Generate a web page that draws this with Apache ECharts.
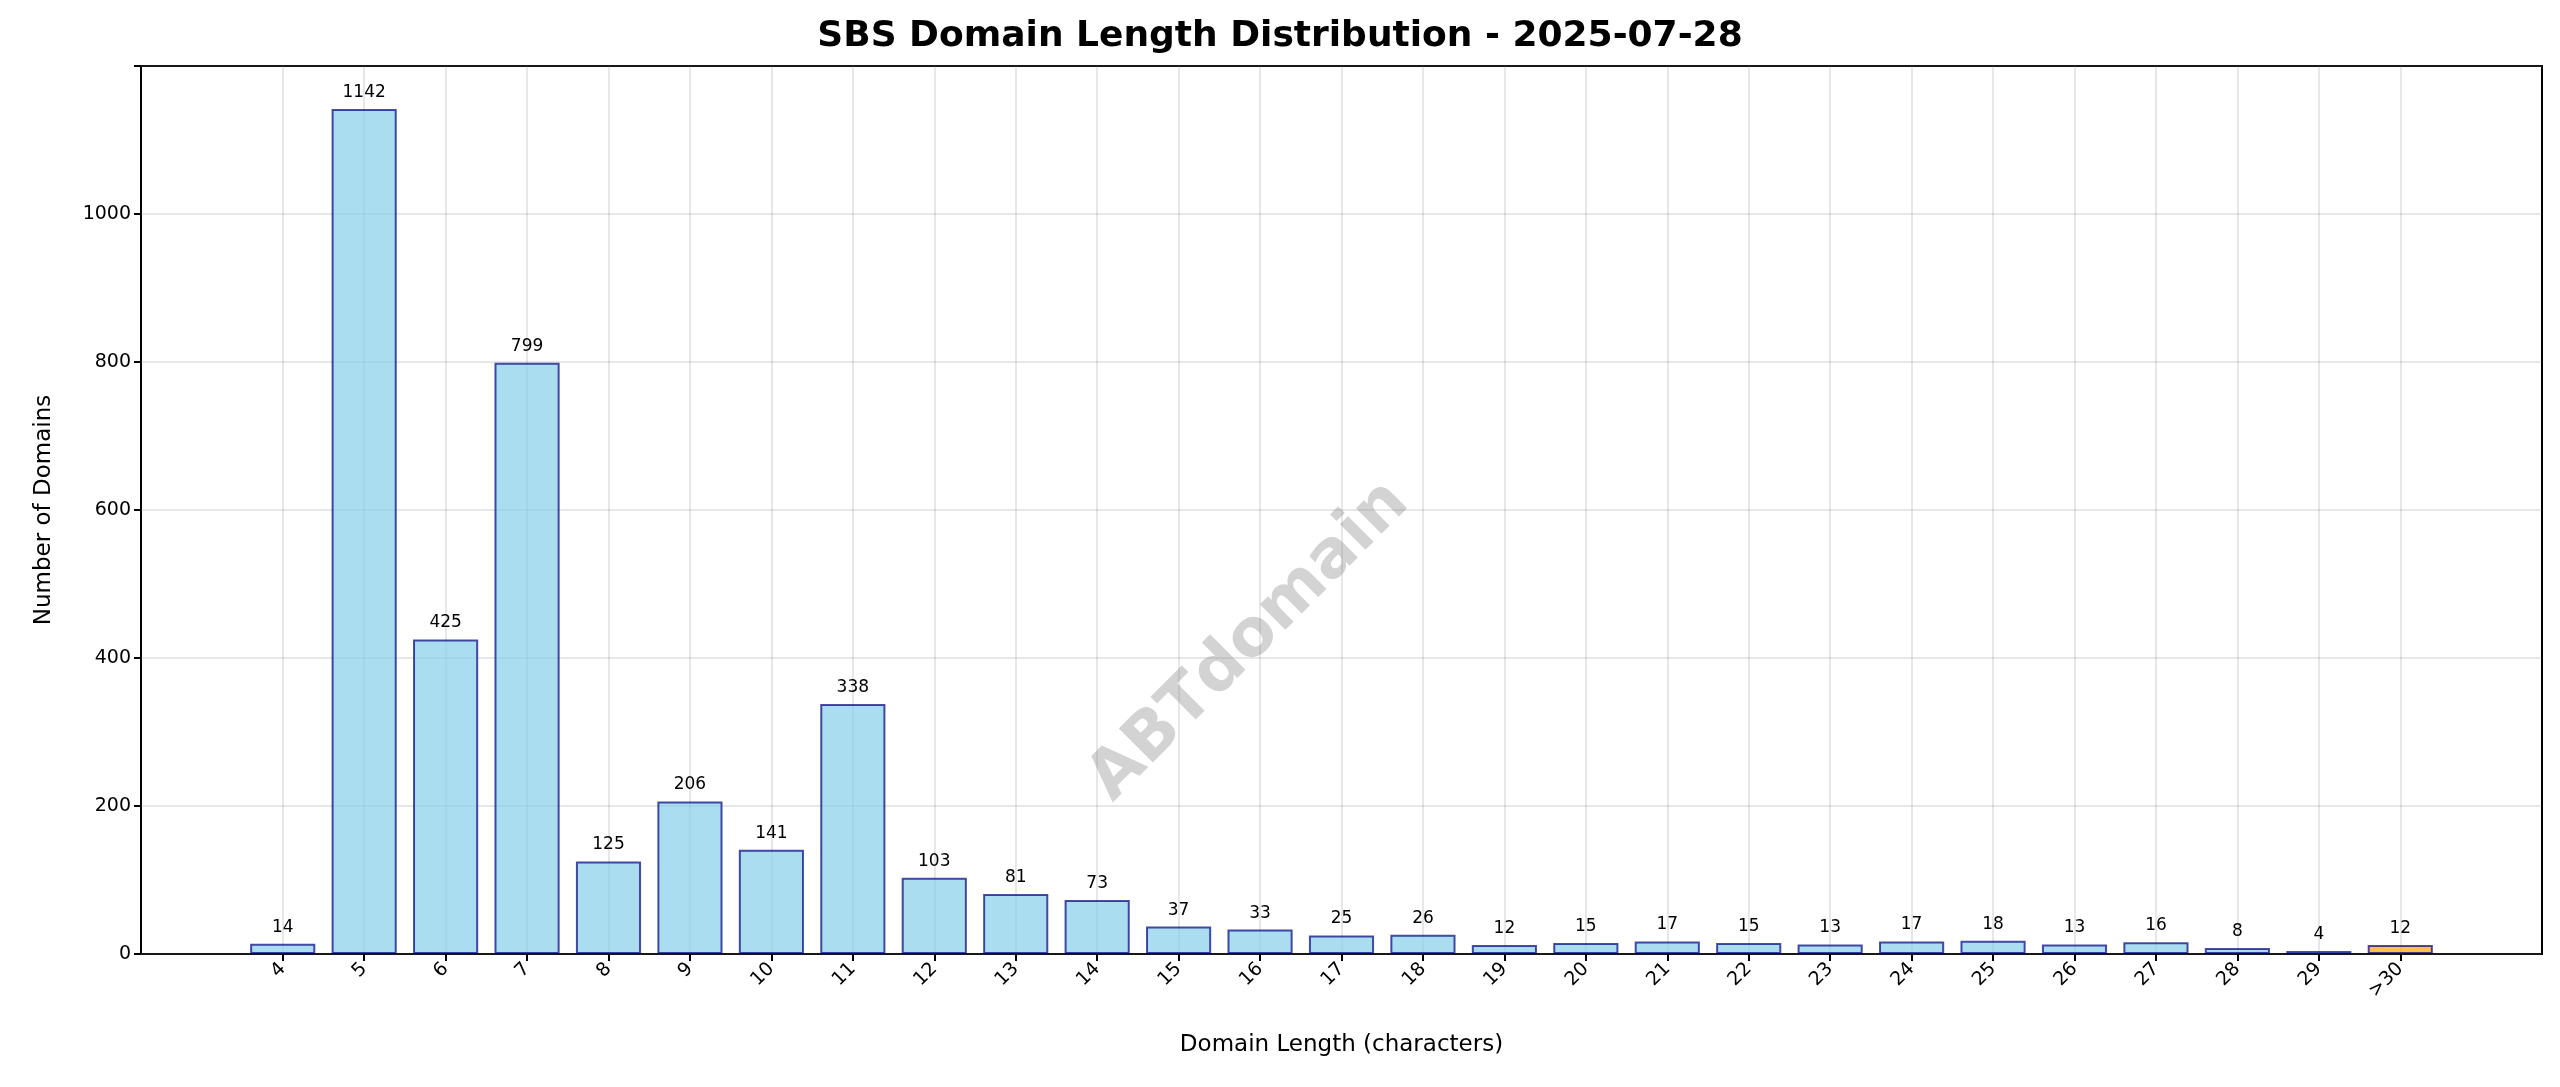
<!DOCTYPE html>
<html><head><meta charset="utf-8">
<script src="https://cdn.jsdelivr.net/npm/echarts@6/dist/echarts.min.js"></script>
<style>html,body{margin:0;padding:0;background:#fff}#c{width:2560px;height:1087px}</style>
</head><body><div id="c"></div>
<script>
const categories = ['4','5','6','7','8','9','10','11','12','13','14','15','16','17','18','19','20','21','22','23','24','25','26','27','28','29','>30'];
const counts = [14,1142,425,799,125,206,141,338,103,81,73,37,33,25,26,12,15,17,15,13,17,18,13,16,8,4,12];
const yTicks = [0,200,400,600,800,1000];
const F = 'DejaVu Sans';
const chart = echarts.init(document.getElementById('c'));
chart.setOption({
  animation:false,
  title:{text:'SBS Domain Length Distribution - 2025-07-28',left:'center',top:14,
    textStyle:{fontFamily:F,fontSize:36,fontWeight:'bold',color:'#000'}},
  graphic:[{type:'text',left:1337-260,top:509-40,rotation:Math.PI/4,originX:0,originY:0,
    style:{text:'ABTdomain',font:'bold 66px "DejaVu Sans"',fill:'rgba(128,128,128,0.35)',align:'center',verticalAlign:'middle',x:260,y:40},
    z:100}],
  grid:[
    {left:242,right:119,top:66,bottom:133},
    {left:141,right:18,top:66,bottom:133,show:true,borderColor:'#000',borderWidth:2,backgroundColor:'transparent'}
  ],
  xAxis:[
    {type:'category',gridIndex:0,data:categories,boundaryGap:true,
      axisLine:{show:false},
      axisTick:{show:true,alignWithLabel:true,length:7,lineStyle:{color:'#000',width:2}},
      axisLabel:{rotate:45,fontFamily:F,fontSize:19,color:'#000',margin:12,interval:0},
      splitLine:{show:false},
      name:'Domain Length (characters)',nameLocation:'middle',nameGap:80,
      nameTextStyle:{fontFamily:F,fontSize:23,color:'#000'}},
    {type:'value',gridIndex:1,show:false}
  ],
  yAxis:[
    {type:'value',gridIndex:0,min:0,max:1200,show:false,splitLine:{show:false}},
    {type:'value',gridIndex:1,min:0,max:1200,interval:200,
      axisLine:{show:false},
      axisTick:{show:true,length:7,lineStyle:{color:'#000',width:2}},
      axisLabel:{fontFamily:F,fontSize:19,color:'#000',margin:10,
        formatter:v=>yTicks.includes(v)?String(v):''},
      splitLine:{show:true,lineStyle:{color:'rgba(128,128,128,0.25)',width:1.5}},
      name:'Number of Domains',nameLocation:'middle',nameGap:85,
      nameTextStyle:{fontFamily:F,fontSize:23,color:'#000'}}
  ],
  series:[{
    type:'bar',xAxisIndex:0,yAxisIndex:0,barWidth:'80%',
    data:counts.map((v,i)=>({value:v,itemStyle:{
      color:i===counts.length-1?'rgba(255,165,0,0.7)':'rgba(135,206,235,0.7)'}})),
    itemStyle:{borderColor:'rgba(0,0,128,0.7)',borderWidth:2},
    label:{show:true,position:'top',distance:8,fontFamily:F,fontSize:17,color:'#000'},
    markLine:{silent:true,symbol:'none',label:{show:false},
      lineStyle:{color:'rgba(128,128,128,0.25)',width:1.5,type:'solid'},
      data:categories.map(c=>({xAxis:c})),z:0}
  }]
});
</script></body></html>
